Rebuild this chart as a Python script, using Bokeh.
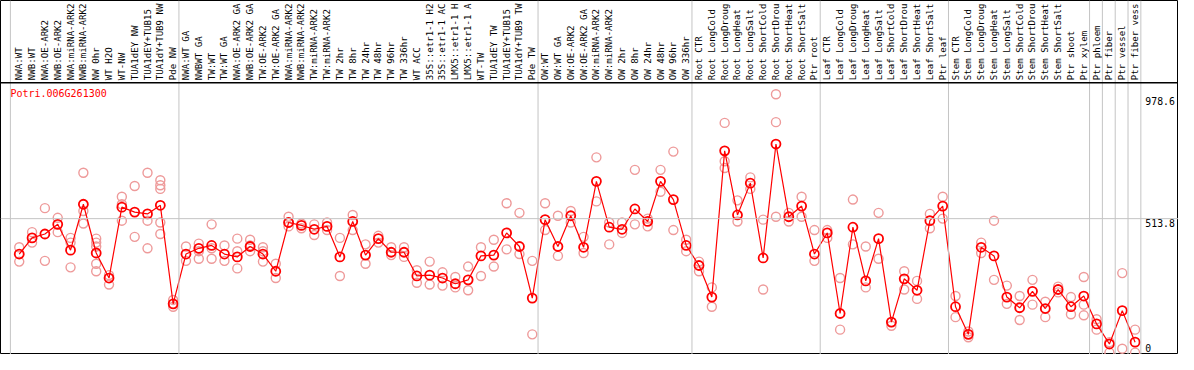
from bokeh.plotting import figure
from bokeh.models import Range1d, Span
from bokeh.core.properties import value
from bokeh.embed import file_html
from bokeh.resources import INLINE
import math

title = "Potri.006G261300"

# category labels as they appear (cut to 14 characters in the reference)
categories = [
    "NWA:WT", "NWB:WT", "NWA:OE-ARK2", "NWB:OE-ARK2", "NWA:miRNA-ARK2", "NWB:miRNA-ARK2",
    "NW 0hr", "WT H2O", "WT-NW", "TUA1dEY NW", "TUA1dEY+TUB15", "TUA1dY+TUB9 NW", "Pde NW",
    "NWA:WT GA", "NWBWT GA", "TW:WT", "TW:WT GA", "NWA:OE-ARK2 GA", "NWB:OE-ARK2 GA",
    "TW:OE-ARK2", "TW:OE-ARK2 GA", "NWA:miRNA-ARK2", "NWB:miRNA-ARK2", "TW:miRNA-ARK2",
    "TW:miRNA-ARK2", "TW 2hr", "TW 8hr", "TW 24hr", "TW 48hr", "TW 96hr", "TW 336hr",
    "WT ACC", "35S::etr1-1 H2", "35S::etr1-1 AC", "LMX5::etr1-1 H", "LMX5::etr1-1 A",
    "WT-TW", "TUA1dEY TW", "TUA1dEY+TUB15", "TUA1dY+TUB9 TW", "Pde TW",
    "OW:WT", "OW:WT GA", "OW:OE-ARK2", "OW:OE-ARK2 GA", "OW:miRNA-ARK2", "OW:miRNA-ARK2",
    "OW 2hr", "OW 8hr", "OW 24hr", "OW 48hr", "OW 96hr", "OW 336hr",
    "Root CTR", "Root LongCold", "Root LongDroug", "Root LongHeat", "Root LongSalt",
    "Root ShortCold", "Root ShortDrou", "Root ShortHeat", "Root ShortSalt", "Ptr root",
    "Leaf CTR", "Leaf LongCold", "Leaf LongDroug", "Leaf LongHeat", "Leaf LongSalt",
    "Leaf ShortCold", "Leaf ShortDrou", "Leaf ShortHeat", "Leaf ShortSalt", "Ptr leaf",
    "Stem CTR", "Stem LongCold", "Stem LongDroug", "Stem LongHeat", "Stem LongSalt",
    "Stem ShortCold", "Stem ShortDrou", "Stem ShortHeat", "Stem ShortSalt", "Ptr shoot",
    "Ptr xylem", "Ptr phloem", "Ptr fiber", "Ptr vessel", "Ptr fiber vess",
]

means = [
    378, 440, 455, 492, 393, 569, 382, 286, 558, 539, 532, 565, 187,
    378, 400, 411, 378, 367, 407, 378, 312, 499, 488, 473, 484, 367, 503, 374, 437, 385, 385,
    294, 297, 286, 264, 279, 371, 374, 459, 407, 209,
    510, 407, 525, 404, 657, 481, 473, 551, 503, 657, 587, 411,
    334, 213, 774, 528, 650, 363, 800, 521, 562, 378,
    459, 150, 481, 275, 437, 117, 283, 239, 506, 562,
    176, 70, 404, 371, 213, 172, 235, 169, 242, 176,
    217, 110, 33, 161, 40,
]

replicates = [
    [404, 349], [462, 422], [554, 352], [517, 462], [440, 422, 327], [690, 543, 495],
    [437, 422, 407, 341, 312], [297, 261], [598, 569, 506], [639, 444], [690, 506, 400],
    [661, 642, 628, 499, 455], [202, 176],
    [407, 352], [418, 389, 360], [492, 400, 360], [411, 352], [437, 389, 323], [433, 411, 389],
    [404, 389, 349], [341, 286], [521, 499, 484], [495, 477], [492, 451], [499, 470],
    [440, 294], [528, 470], [415, 341], [448, 422], [404, 374], [404, 367],
    [316, 268], [349, 261], [308, 257], [290, 250], [330, 239], [404, 294], [433, 330],
    [573, 396], [536, 378], [352, 70],
    [573, 470], [525, 371], [543, 499], [444, 382], [749, 580], [499, 415], [499, 459],
    [701, 492], [514, 484], [701, 617], [771, 470], [433, 389],
    [349, 312], [250, 176], [881, 734, 708], [584, 503], [672, 628], [510, 242],
    [991, 884, 521], [536, 503], [598, 521], [470, 352],
    [470, 440], [286, 88], [587, 415], [407, 250], [536, 360], [103, 117], [312, 242],
    [275, 206], [532, 477], [598, 514],
    [217, 136], [81, 59], [422, 382], [506, 279], [257, 187], [217, 125], [279, 184],
    [195, 136], [253, 231], [213, 147],
    [290, 184, 143], [128, 88], [40, 0], [305, 15], [88, 0],
]

y_ticks = [0, 513.8, 978.6]
y_tick_labels = ["0", "513.8", "978.6"]
gridline_value = 513.8
group_ends = [12, 40, 52, 62, 72, 83, 84, 85, 86, 87]

x = list(range(len(categories)))
rx, ry = [], []
for i, reps in enumerate(replicates):
    for v in reps:
        rx.append(i)
        ry.append(v)

mono = value("DejaVu Sans Mono")

p = figure(width=1178, height=354,
           x_range=Range1d(-1.4615, 90.385), y_range=Range1d(-7.3, 1350.6),
           output_backend="svg", toolbar_location=None, min_border=0)
p.axis.visible = False
p.grid.visible = False
p.outline_line_color = "black"
p.outline_line_width = 1
p.background_fill_color = "white"
p.border_fill_color = "white"

# grey separators
p.add_layout(Span(location=-0.69, dimension="height", line_color="#c4c4c4", line_width=1))
for g in group_ends:
    p.add_layout(Span(location=g + 0.45, dimension="height", line_color="#c4c4c4", line_width=1))
p.add_layout(Span(location=gridline_value, dimension="width", line_color="#c4c4c4", line_width=1))
# black line under label area
p.add_layout(Span(location=1035, dimension="width", line_color="black", line_width=1.5))

# category labels
p.text(x=x, y=[1045] * len(x), text=categories, angle=math.pi / 2,
       text_align="left", text_baseline="middle", text_font=mono,
       text_font_size="9.1px", text_color="black")

# replicates
p.scatter(rx, ry, marker="circle", size=9, fill_color=None,
          line_color="#ee9a9a", line_width=1.4)
# mean line + points
p.line(x, means, line_color="#ff0000", line_width=1.2)
p.scatter(x, means, marker="circle", size=9, fill_color=None,
          line_color="#ff0000", line_width=1.8)

# title
p.text(x=[-0.69], y=[994], text=[title], text_align="left", text_baseline="middle",
       text_font=mono, text_font_size="10px", text_color="#ff0000")

# y tick labels
p.text(x=[87.8, 87.8], y=y_ticks[1:], text=y_tick_labels[1:], text_align="left",
       text_baseline="top", text_font=mono, text_font_size="9.8px", text_color="black")
p.text(x=[87.8], y=y_ticks[:1], text=y_tick_labels[:1], text_align="left",
       text_baseline="bottom", y_offset=-1, text_font=mono, text_font_size="9.8px",
       text_color="black")

open("out.html", "w").write(file_html(p, INLINE))
